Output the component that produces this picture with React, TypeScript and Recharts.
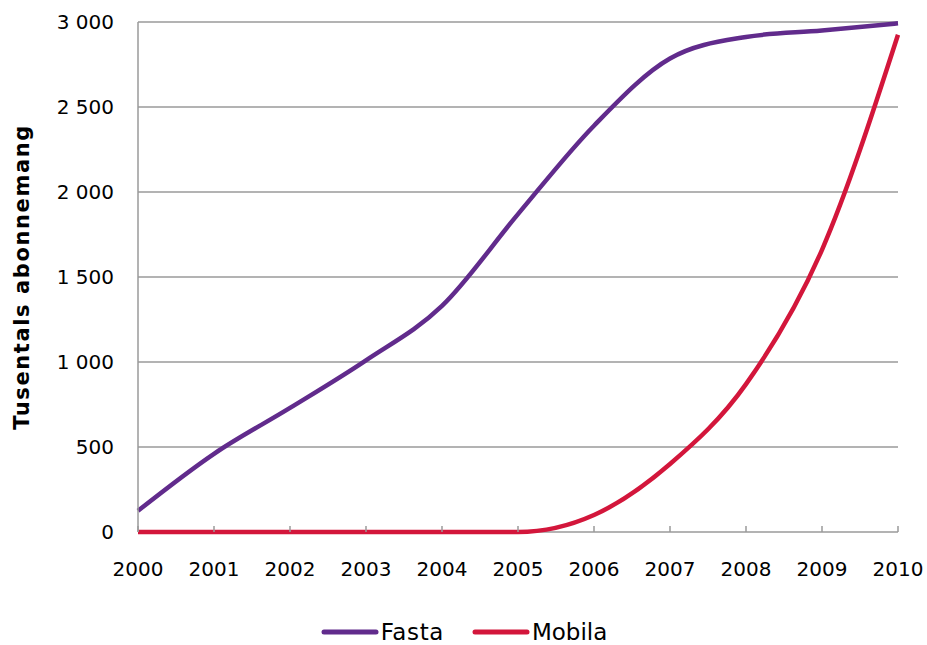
import React from 'react';
import { LineChart, Line, XAxis, YAxis, CartesianGrid, Legend } from 'recharts';

const years = [2000, 2001, 2002, 2003, 2004, 2005, 2006, 2007, 2008, 2009, 2010];
const fasta = [125, 460, 730, 1010, 1330, 1870, 2390, 2785, 2912, 2950, 2992];
const mobila = [0, 0, 0, 0, 0, 0, 100, 400, 870, 1660, 2925];
const yTicks = [0, 500, 1000, 1500, 2000, 2500, 3000];

const PURPLE = '#612B8C';
const RED = '#D3163B';
const GRID = '#9A9A9A';
const FONT = '"DejaVu Sans", Verdana, sans-serif';

const data = years.map((year, i) => ({ year, Fasta: fasta[i], Mobila: mobila[i] }));

const formatThousands = (v: number) => String(v).replace(/\B(?=(\d{3})+(?!\d))/g, ' ');

const XTick = (props: any) => {
  const { x, y, payload } = props;
  return (
    <g>
      <line x1={x} x2={x} y1={y - 6} y2={y} stroke={GRID} strokeWidth={1.5} />
      <text x={x} y={y + 44} textAnchor="middle" fontSize={20} fontFamily={FONT} fill="#000">
        {payload.value}
      </text>
    </g>
  );
};

const YLabel = (props: any) => {
  const { viewBox } = props;
  const cy = viewBox.y + viewBox.height / 2;
  return (
    <text
      x={22}
      y={cy}
      transform={`rotate(-90, 22, ${cy})`}
      textAnchor="middle"
      dominantBaseline="central"
      fontSize={21}
      fontWeight="bold"
      letterSpacing={1.6}
      fontFamily={FONT}
      fill="#000"
    >
      Tusentals abonnemang
    </text>
  );
};

const LegendContent = () => {
  const items = [
    { name: 'Fasta', color: PURPLE },
    { name: 'Mobila', color: RED },
  ];
  return (
    <div style={{ display: 'flex', justifyContent: 'center', alignItems: 'center', fontFamily: FONT, fontSize: 23, lineHeight: '26px', paddingLeft: 30 }}>
      {items.map((it, i) => (
        <div key={it.name} style={{ display: 'flex', alignItems: 'center', marginLeft: i === 0 ? 0 : 28 }}>
          <svg width={58} height={10}>
            <line x1={3} x2={55} y1={5} y2={5} stroke={it.color} strokeWidth={5} strokeLinecap="round" />
          </svg>
          <span style={{ marginLeft: 2, letterSpacing: i === 0 ? 0.6 : 0 }}>{it.name}</span>
        </div>
      ))}
    </div>
  );
};

const App: React.FC = () => {
  return (
    <div style={{ width: 927, height: 645 }}>
      <style>{'html, body { margin: 0; padding: 0; overflow: hidden; }'}</style>
      <LineChart
        width={927}
        height={645}
        data={data}
        margin={{ top: 22, right: 29, left: 0, bottom: 0 }}
      >
        <CartesianGrid vertical={false} stroke={GRID} strokeWidth={1.5} />
        <XAxis
          dataKey="year"
          axisLine={false}
          tickSize={0}
          tickMargin={0}
          height={87}
          tick={<XTick />}
          interval={0}
        />
        <YAxis
          domain={[0, 3000]}
          ticks={yTicks}
          width={138}
          stroke={GRID}
          strokeWidth={1.5}
          tickLine={false}
          tickSize={0}
          tickMargin={24}
          tickFormatter={formatThousands}
          tick={{ fontSize: 20, fontFamily: FONT, fill: '#000' }}
          label={<YLabel />}
        />
        <Legend verticalAlign="bottom" height={26} content={<LegendContent />} wrapperStyle={{ bottom: 0 }} />
        <Line type="monotone" dataKey="Fasta" stroke={PURPLE} strokeWidth={4.5} dot={false} isAnimationActive={false} />
        <Line type="monotone" dataKey="Mobila" stroke={RED} strokeWidth={4.5} dot={false} isAnimationActive={false} />
      </LineChart>
    </div>
  );
};

export default App;
